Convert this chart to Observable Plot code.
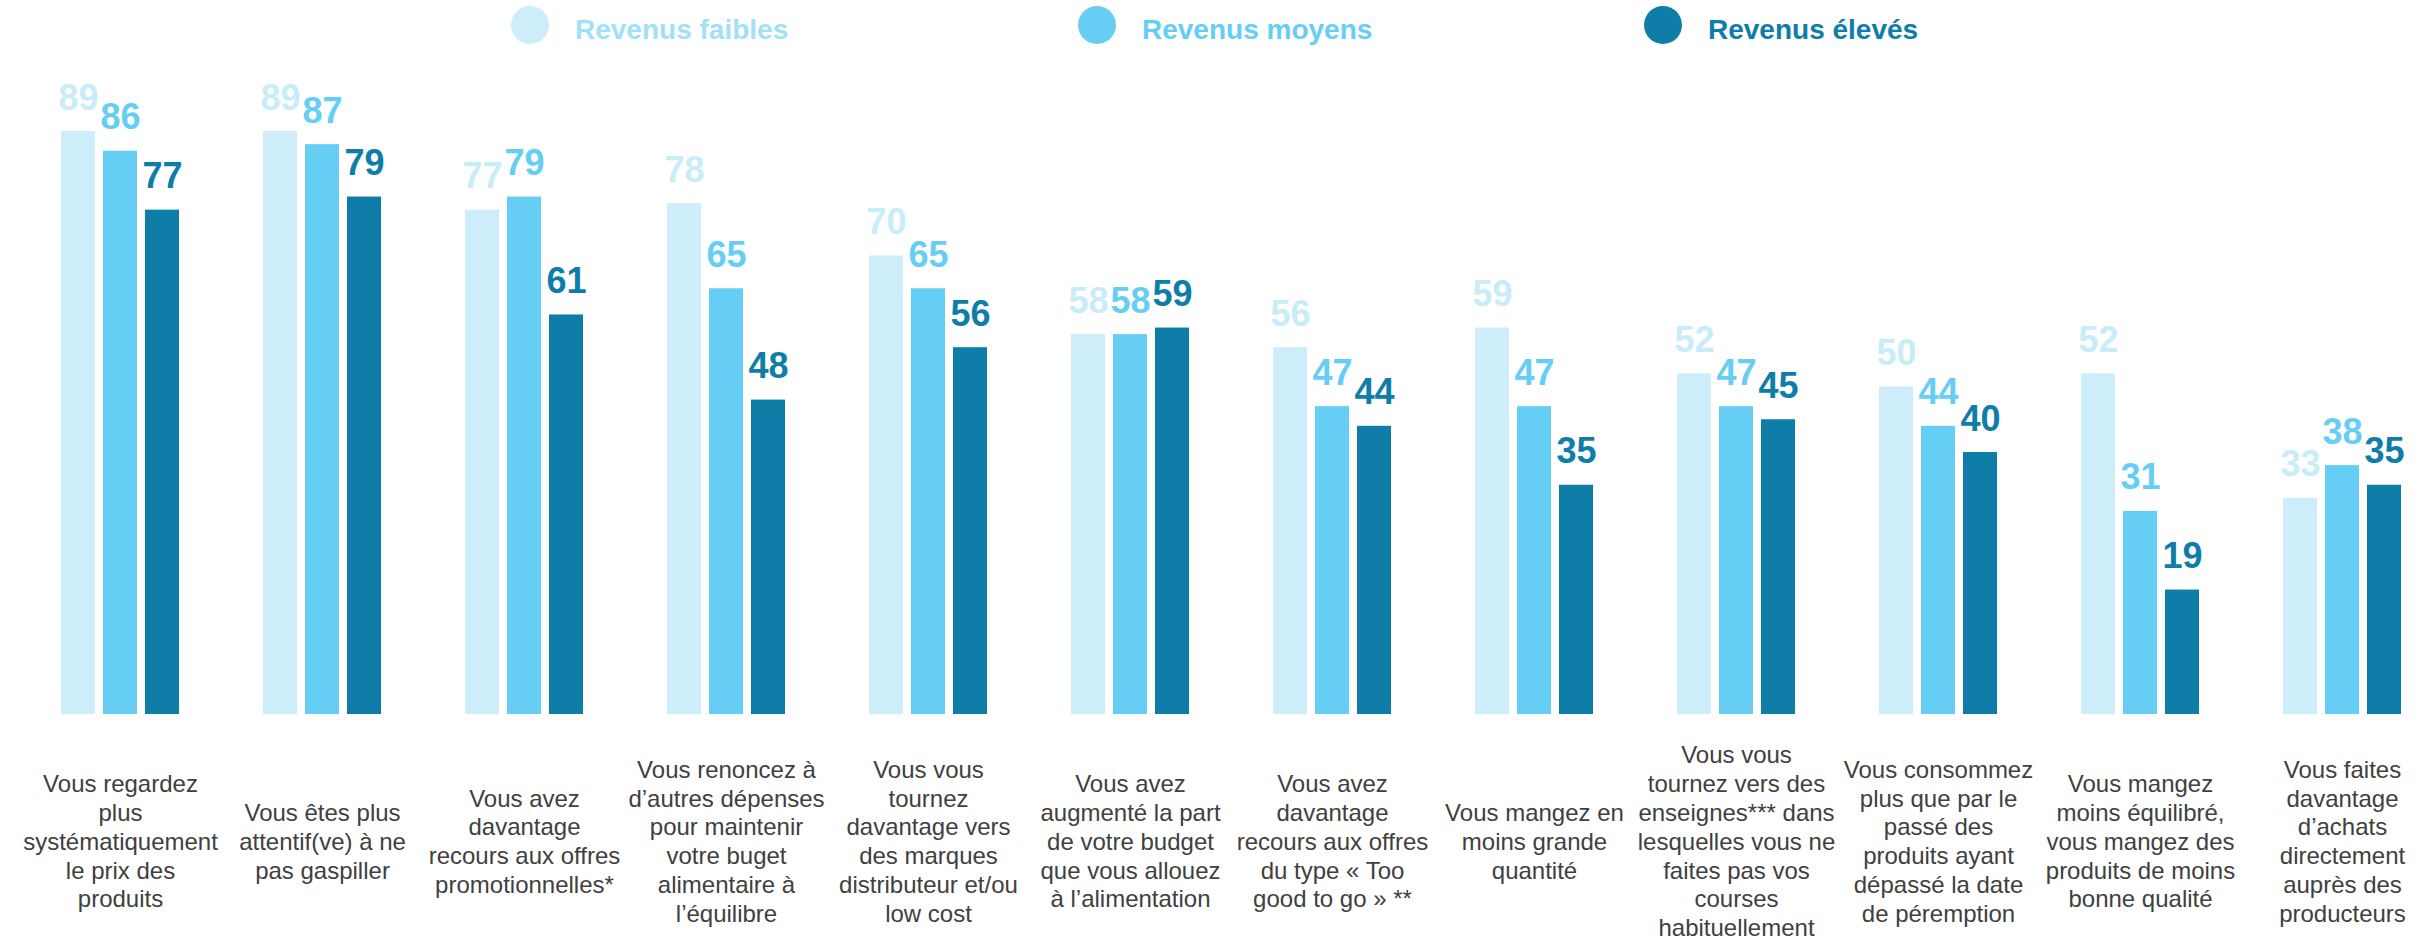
<!DOCTYPE html>
<html>
<head>
<meta charset="utf-8">
<script src="https://cdn.jsdelivr.net/npm/d3@7"></script>
<script src="https://cdn.jsdelivr.net/npm/@observablehq/plot@0.6"></script>
<style>
  body { margin: 0; background: #fff; font-family: "Liberation Sans", Arial, sans-serif; }
  #wrap { position: relative; width: 2433px; height: 937px; }
  #legend { position: absolute; left: 0; top: 0; }
</style>
</head>
<body>
<div id="wrap"></div>
<script>
const categories = [
  "Vous regardez\nplus\nsystématiquement\nle prix des\nproduits",
  "Vous êtes plus\nattentif(ve) à ne\npas gaspiller",
  "Vous avez\ndavantage\nrecours aux offres\npromotionnelles*",
  "Vous renoncez à\nd’autres dépenses\npour maintenir\nvotre buget\nalimentaire à\nl’équilibre",
  "Vous vous\ntournez\ndavantage vers\ndes marques\ndistributeur et/ou\nlow cost",
  "Vous avez\naugmenté la part\nde votre budget\nque vous allouez\nà l’alimentation",
  "Vous avez\ndavantage\nrecours aux offres\ndu type « Too\ngood to go » **",
  "Vous mangez en\nmoins grande\nquantité",
  "Vous vous\ntournez vers des\nenseignes*** dans\nlesquelles vous ne\nfaites pas vos\ncourses\nhabituellement",
  "Vous consommez\nplus que par le\npassé des\nproduits ayant\ndépassé la date\nde péremption",
  "Vous mangez\nmoins équilibré,\nvous mangez des\nproduits de moins\nbonne qualité",
  "Vous faites\ndavantage\nd’achats\ndirectement\nauprès des\nproducteurs"
];
const series = ["Revenus faibles", "Revenus moyens", "Revenus élevés"];
const faibles = [89, 89, 77, 78, 70, 58, 56, 59, 52, 50, 52, 33];
const moyens  = [86, 87, 79, 65, 65, 58, 47, 47, 47, 44, 31, 38];
const eleves  = [77, 79, 61, 48, 56, 59, 44, 35, 45, 40, 19, 35];
const barColors = ["#ccedf9", "#66cef5", "#0e7da8"];
const valueColors = ["#c9ecf9", "#66cef5", "#0e7da8"];
const legendTextColors = ["#a0e1f9", "#66cef5", "#0e7da8"];

const seriesValues = [faibles, moyens, eleves];
const data = categories.flatMap((c, i) =>
  series.map((s, j) => ({cat: c, s, v: seriesValues[j][i]}))
);

const font = "'Liberation Sans', Arial, sans-serif";

const chart = Plot.plot({
  width: 2433,
  height: 937,
  marginTop: 59,
  marginBottom: 223,
  marginLeft: 59,
  marginRight: 29,
  style: {fontFamily: font, background: "white", overflow: "visible"},
  fx: {domain: categories, paddingInner: 0.405, paddingOuter: 0, axis: null, label: null},
  x: {domain: series, paddingInner: 0.19, paddingOuter: 0, axis: null},
  y: {domain: [0, 100], axis: null},
  color: {domain: series, range: barColors},
  marks: [
    Plot.barY(data, {fx: "cat", x: "s", y: "v", fill: "s"}),
    ...series.map((s, j) =>
      Plot.text(data.filter(d => d.s === s), {
        fx: "cat", x: "s", y: "v", text: d => String(d.v),
        fill: valueColors[j], lineAnchor: "bottom", dy: -22,
        fontSize: 36, fontWeight: "bold"
      })
    ),
    Plot.text(categories, {
      fx: d => d, text: d => d, frameAnchor: "bottom", dy: 126,
      lineAnchor: "middle", fontSize: 24, lineHeight: 1.2, fill: "#404040"
    })
  ]
});

const wrap = document.getElementById("wrap");
wrap.appendChild(chart);

// Legend overlay
const legendX = [530, 1097, 1663];
const leg = d3.create("svg")
  .attr("id", "legend")
  .attr("width", 2433)
  .attr("height", 60)
  .style("font-family", font);
series.forEach((s, j) => {
  leg.append("circle").attr("cx", legendX[j]).attr("cy", 25).attr("r", 19).attr("fill", barColors[j]);
  leg.append("text").attr("x", legendX[j] + 45).attr("y", 39)
    .attr("font-size", 28).attr("font-weight", "bold")
    .attr("fill", legendTextColors[j]).text(s);
});
wrap.appendChild(leg.node());
</script>
</body>
</html>
